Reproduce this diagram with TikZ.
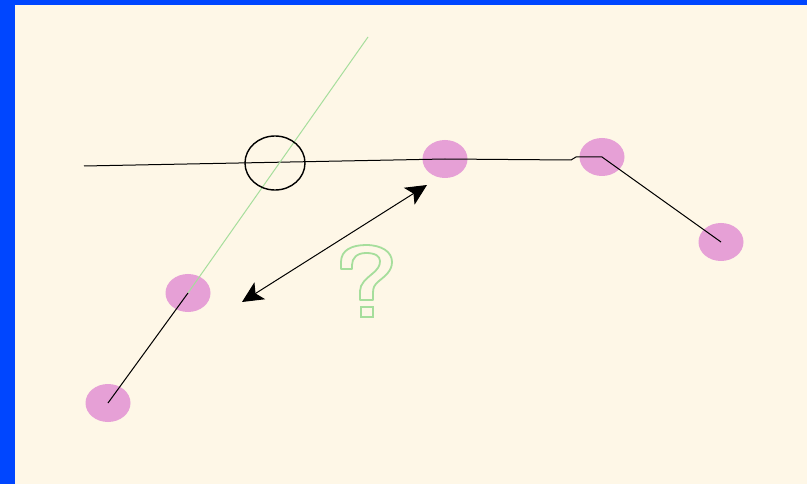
\documentclass[tikz,border=0pt]{standalone}
\usepackage{tikz}
\usetikzlibrary{arrows.meta}
\usetikzlibrary{shapes.geometric}
\definecolor{framblue}{HTML}{0046FF}
\definecolor{paper}{HTML}{FEF7E7}
\definecolor{dotpink}{HTML}{E6A0D6}
\definecolor{lightgreen}{HTML}{A6DE9C}

\begin{document}
\begin{tikzpicture}[
		x=1pt, y=-1pt,
		dot/.style={ellipse,fill=dotpink,inner sep=0pt,minimum width=45pt,minimum height=38pt},
		edge/.style={black,line width=1pt},
		guide/.style={lightgreen,line width=1pt},
		>={Stealth[length=21pt,width=20pt,inset=5pt]}
		]
		
		% Frame and background
		\useasboundingbox (0,0) rectangle (807,484);
		\fill[framblue] (0,0) rectangle (807,484);
		\fill[paper] (15,5) rectangle (807,484);
		
		% Points
		\node[dot] (p1) at (445,159) {};
		\node[dot] (p2) at (602,157) {};
		\node[dot] (p3) at (721,242) {};
		\node[dot] (p4) at (188,293) {};
		\node[dot] (p5) at (108,403) {};
		
		% Free ends
		\coordinate (lend) at (84,166);
		\coordinate (kink) at (576,157);
		\coordinate (gtop) at (368,37);
		\coordinate (atail) at (242,302);
		\coordinate (ahead) at (427,185);
		
		% Polyline
		\draw[edge] (lend) -- (p1.center) -- (571,160) -- (kink) -- (p2.center) -- (p3.center);
		\draw[edge] (p4.center) -- (p5.center);
		
		% Green line
		\draw[guide] (gtop) -- (p4.center);
		
		% Ring on the crossing
		\node[ellipse,draw=black,line width=1.4pt,inner sep=0pt,minimum width=60pt,minimum height=54pt] (ring) at (275,163) {};
		
		% Distance arrow
		\draw[edge,<->] (atail) -- (ahead);
		
		% Question mark, outlined
		\draw[lightgreen,line width=1.8pt,line join=round]
			(341,269) -- (341,262) .. controls (341,250) and (352,245) .. (366,245)
			.. controls (382,245) and (392,252) .. (392,262)
			.. controls (392,271) and (385,276) .. (379,281)
			.. controls (374,285) and (373,288) .. (373,293) -- (373,300) -- (360,300) -- (360,291)
			.. controls (360,284) and (366,279) .. (372,274)
			.. controls (378,269) and (380,266) .. (380,261)
			.. controls (380,256) and (375,253) .. (366,253)
			.. controls (357,253) and (352,258) .. (352,265) -- (352,269) -- cycle;
		\draw[lightgreen,line width=1.8pt] (361,307) rectangle (373,317);
		
	\end{tikzpicture}
\end{document}
